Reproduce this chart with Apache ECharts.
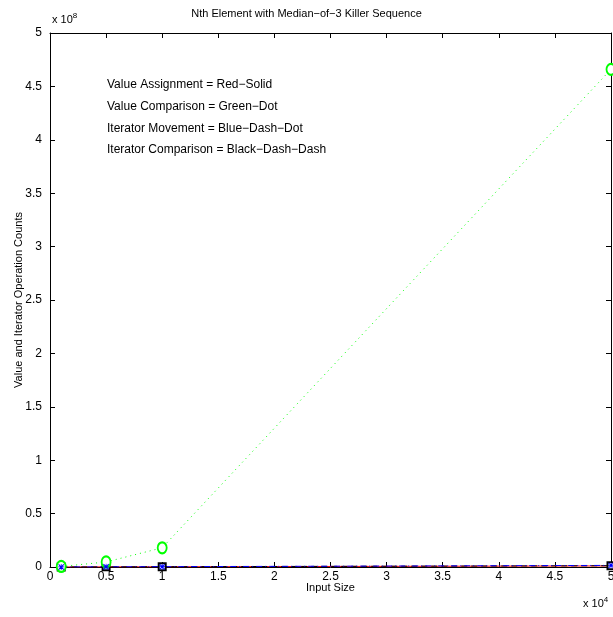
<!DOCTYPE html>
<html><head><meta charset="utf-8">
<script src="https://cdn.jsdelivr.net/npm/echarts@6/dist/echarts.min.js"></script>
<style>html,body{margin:0;padding:0;background:#fff}#c{width:613px;height:617px}</style>
</head><body><div id="c"></div>
<script>
const sizes = [1000, 5000, 10000, 50000];
const valueAssignment = [20000, 100000, 200000, 1000000];
const valueComparison = [500000, 4700000, 18000000, 466000000];
const iteratorMovement = [30000, 150000, 300000, 1500000];
const iteratorComparison = [25000, 120000, 250000, 1200000];
const xTicks = ['0','0.5','1','1.5','2','2.5','3','3.5','4','4.5','5'];
const yTicks = ['0','0.5','1','1.5','2','2.5','3','3.5','4','4.5','5'];
const legendLines = ['Value Assignment = Red\u2212Solid','Value Comparison = Green\u2212Dot','Iterator Movement = Blue\u2212Dash\u2212Dot','Iterator Comparison = Black\u2212Dash\u2212Dash'];

const font = 'Liberation Sans, Arial, sans-serif';
const chart = echarts.init(document.getElementById('c'));
const pairs = a => sizes.map((s,i)=>[s,a[i]]);
const axisCommon = () => ({
  axisLine:{show:true,onZero:false,lineStyle:{color:'#000',width:1}},
  axisTick:{show:true,inside:true,length:5,lineStyle:{color:'#000'}},
  splitLine:{show:false}
});
const starPath = 'path://M0,1.2L1.2,0L10,8.8L8.8,10Z M8.8,0L10,1.2L1.2,10L0,8.8Z M4.4,0L5.6,0L5.6,10L4.4,10Z M0,4.4L10,4.4L10,5.6L0,5.6Z';
chart.setOption({
  animation:false,
  title:{text:'Nth Element with Median-of-3 Killer Sequence'.replace(/-/g,'\u2212'),left:'center',top:3,
    textStyle:{fontFamily:font,fontSize:11,fontWeight:'normal',color:'#000'}},
  grid:{left:50,right:2,top:33,bottom:50,containLabel:false,outerBoundsMode:'none'},
  xAxis:[
    Object.assign({type:'value',min:0,max:50000,interval:5000,position:'bottom',
      name:'Input Size',nameLocation:'middle',nameGap:15,nameMoveOverlap:false,
      nameTextStyle:{fontFamily:font,fontSize:11,color:'#000'},
      axisLabel:{fontFamily:font,fontSize:12,color:'#000',margin:4,formatter:v=>xTicks[Math.round(v/5000)]}},axisCommon()),
    Object.assign({type:'value',min:0,max:50000,interval:5000,position:'top',axisLabel:{show:false}},axisCommon())
  ],
  yAxis:[
    Object.assign({type:'value',min:0,max:500000000,interval:50000000,position:'left',
      name:'Value and Iterator Operation Counts',nameLocation:'middle',nameGap:26,nameMoveOverlap:false,
      nameTextStyle:{fontFamily:font,fontSize:11,color:'#000'},
      axisLabel:{fontFamily:font,fontSize:12,color:'#000',margin:8,formatter:v=>yTicks[Math.round(v/50000000)]}},axisCommon()),
    Object.assign({type:'value',min:0,max:500000000,interval:50000000,position:'right',axisLabel:{show:false}},axisCommon())
  ],
  series:[
    {type:'line',data:pairs(valueAssignment),lineStyle:{color:'#ff0000',width:1,type:'solid'},
      symbol:'none',itemStyle:{color:'#ff0000'}},
    {type:'line',data:pairs(iteratorComparison),lineStyle:{color:'#000000',width:1,type:[6,4]},
      symbol:'emptyRect',symbolSize:7,itemStyle:{color:'#000',borderColor:'#000',borderWidth:1}},
    {type:'line',data:pairs(valueComparison),lineStyle:{color:'#00ff00',width:1,type:[1,4]},
      symbol:'emptyCircle',symbolSize:[9,11],itemStyle:{color:'#00ff00',borderColor:'#00ff00',borderWidth:1}},
    {type:'line',data:pairs(iteratorMovement),lineStyle:{color:'#0000ff',width:1,type:[6,3,1,3]},
      symbol:starPath,symbolSize:6,
      itemStyle:{color:'#0000ff',borderWidth:0}}
  ],
  graphic:[
    {type:'text',left:52,top:12,style:{text:'x 10{s|8}',fontFamily:font,fontSize:11,fill:'#000',
      rich:{s:{fontSize:8,verticalAlign:'top',padding:[0,0,8,0]}}}},
    {type:'text',left:583,top:596,style:{text:'x 10{s|4}',fontFamily:font,fontSize:11,fill:'#000',
      rich:{s:{fontSize:8,padding:[0,0,8,0]}}}},
    ...legendLines.map((t,i)=>({type:'text',left:107,top:79+i*21.6,style:{text:t,fontFamily:font,fontSize:12,fill:'#000'}}))
  ]
});
</script></body></html>
